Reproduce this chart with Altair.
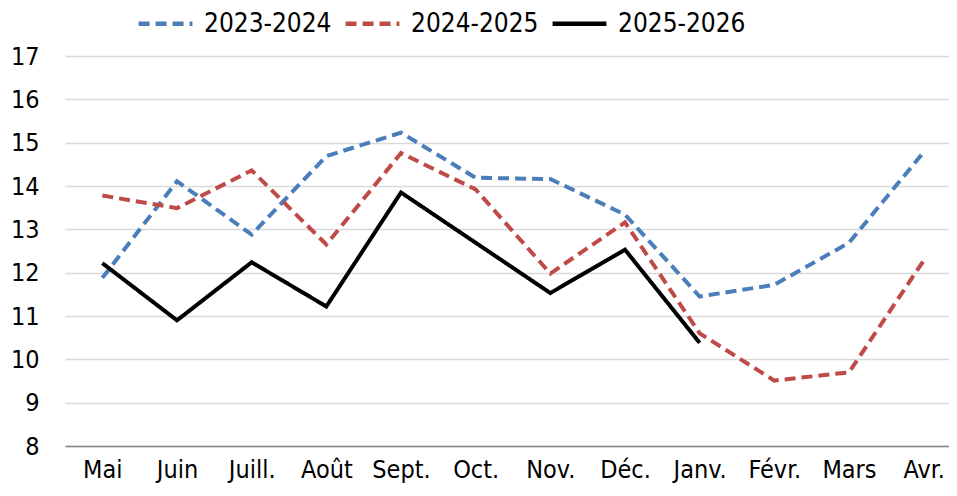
import altair as alt
import pandas as pd

months = ["Mai", "Juin", "Juill.", "Août", "Sept.", "Oct.", "Nov.", "Déc.", "Janv.", "Févr.", "Mars", "Avr."]
series = ["2023-2024", "2024-2025", "2025-2026"]
s2023 = [11.88, 14.11, 12.88, 14.69, 15.23, 14.19, 14.16, 13.34, 11.45, 11.72, 12.69, 14.78]
s2024 = [13.78, 13.49, 14.36, 12.65, 14.76, 13.92, 11.98, 13.16, 10.6, 9.51, 9.70, 12.28]
s2025 = [12.22, 10.90, 12.24, 11.22, 13.85, 12.69, 11.53, 12.53, 10.38]

rows = []
for name, vals in zip(series, [s2023, s2024, s2025]):
    for m, v in zip(months, vals):
        rows.append({"mois": m, "serie": name, "valeur": v})
df = pd.DataFrame(rows)

FONT = "DejaVu Sans Condensed"

chart = alt.Chart(df).mark_line(strokeWidth=4, strokeCap="butt").encode(
    x=alt.X("mois:N", sort=months, scale=alt.Scale(type="point", padding=0.5, range=[0, 896]),
            axis=alt.Axis(title=None, labelAngle=0, ticks=False, domainColor="#868686",
                          domainWidth=1.5, labelPadding=11, grid=False)),
    y=alt.Y("valeur:Q", scale=alt.Scale(domain=[8, 17], nice=False, zero=False),
            axis=alt.Axis(title=None, values=list(range(8, 18)), ticks=False, domain=False,
                          gridColor="#d9d9d9", gridWidth=1.5, labelPadding=26)),
    color=alt.Color("serie:N", scale=alt.Scale(domain=series, range=["#4a7ebb", "#be4b48", "#000000"]),
                    legend=alt.Legend(title=None, orient="none", direction="horizontal",
                                      legendX=71, legendY=-62, symbolType="stroke",
                                      symbolSize=2900, symbolStrokeWidth=4.5,
                                      labelOffset=9, columnPadding=4)),
    strokeDash=alt.StrokeDash("serie:N", scale=alt.Scale(domain=series, range=[[11, 6], [11, 6], [1, 0]]),
                              legend=alt.Legend(title=None)),
).properties(
    width=884, height=390,
    autosize=alt.AutoSizeParams(type="none"),
    padding={"left": 57, "top": 48, "right": 0, "bottom": 40},
).configure_axis(
    labelFont=FONT, labelFontSize=25, labelColor="#000000",
).configure_legend(
    labelFont=FONT, labelFontSize=26, labelColor="#000000",
).configure_view(stroke=None)

chart.save("out.html", embed_options={"renderer": "svg", "actions": False})
